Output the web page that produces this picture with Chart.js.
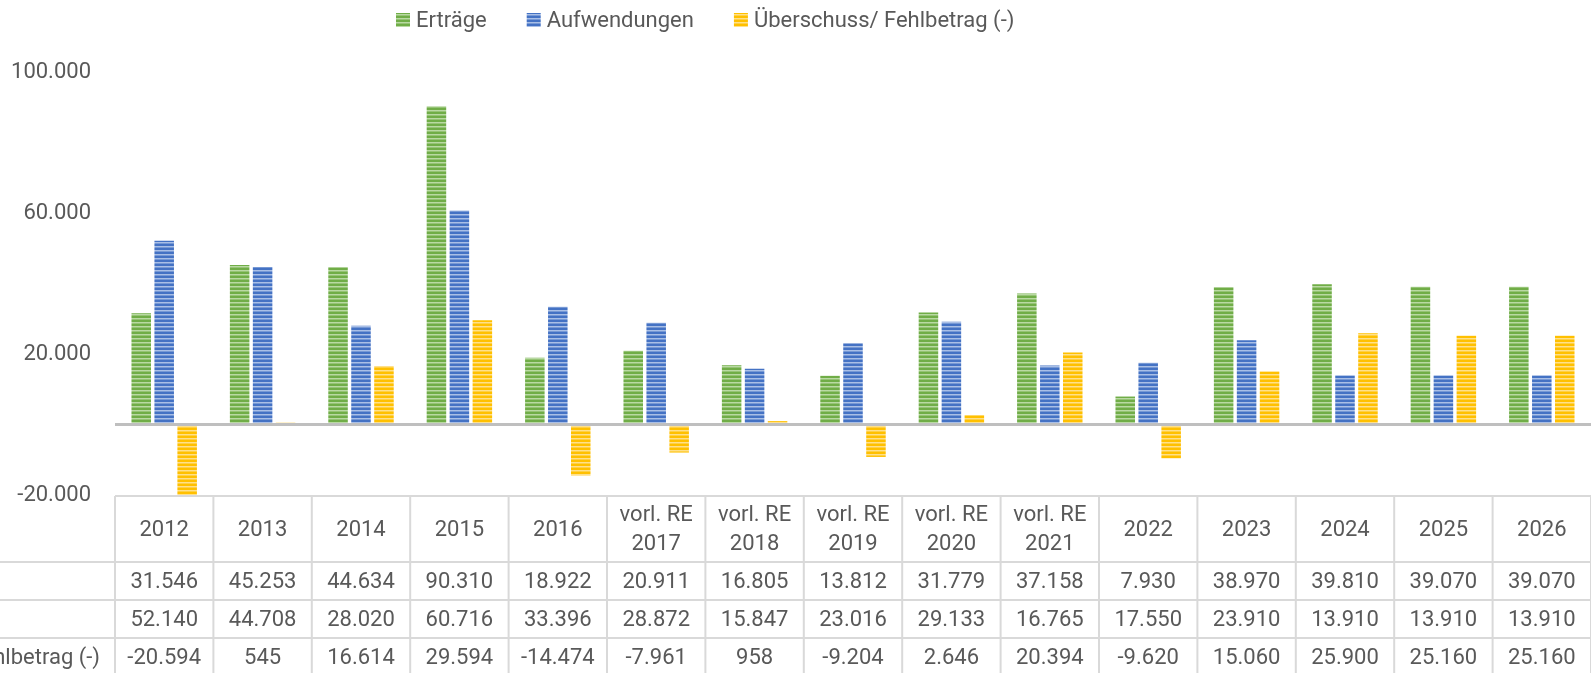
<!DOCTYPE html>
<html>
<head>
<meta charset="utf-8">
<script src="https://cdn.jsdelivr.net/npm/chart.js@4.4.1/dist/chart.umd.min.js"></script>
<style>
    html, body { margin: 0; padding: 0; background: #fff; overflow: hidden; }
    #wrap { width: 1591px; height: 673px; }
</style>
</head>
<body>
<div id="wrap"><canvas id="chart" width="1591" height="673"></canvas></div>
<script>
// ------------------------------ Data -------------------------------
var categories = ['2012', '2013', '2014', '2015', '2016',
    ['vorl. RE', '2017'], ['vorl. RE', '2018'], ['vorl. RE', '2019'], ['vorl. RE', '2020'], ['vorl. RE', '2021'],
    '2022', '2023', '2024', '2025', '2026'];
var seriesNames = ['Erträge', 'Aufwendungen', 'Überschuss/ Fehlbetrag (-)'];
var ertraege = [31546, 45253, 44634, 90310, 18922, 20911, 16805, 13812, 31779, 37158, 7930, 38970, 39810, 39070, 39070];
var aufwendungen = [52140, 44708, 28020, 60716, 33396, 28872, 15847, 23016, 29133, 16765, 17550, 23910, 13910, 13910, 13910];
var ueberschuss = [-20594, 545, 16614, 29594, -14474, -7961, 958, -9204, 2646, 20394, -9620, 15060, 25900, 25160, 25160];
var tickValues = [-20000, 20000, 60000, 100000];

// ------------------------------ Look -------------------------------
var FONT = 'Roboto, "Open Sans", sans-serif';
var TEXT = '#595959';
var GRID = '#d9d9d9';
var colors = ['#70ad47', '#4472c4', '#ffc000'];
var lightColors = ['#b9d9a3', '#a9bfe6', '#ffe08a'];

var canvas = document.getElementById('chart');
var mainCtx = canvas.getContext('2d');

function fmt(v) {
    var s = Math.abs(v).toString().replace(/\B(?=(\d{3})+(?!\d))/g, '.');
    return (v < 0 ? '-' : '') + s;
}

// horizontal stripe fill like the excel pattern fill
function stripes(base, light) {
    var c = document.createElement('canvas');
    c.width = 4; c.height = 4;
    var g = c.getContext('2d');
    g.fillStyle = base;
    g.fillRect(0, 0, 4, 4);
    g.fillStyle = light;
    g.fillRect(0, 2, 4, 1);
    g.globalAlpha = 0.5;
    g.fillRect(0, 3, 4, 1);
    return mainCtx.createPattern(c, 'repeat');
}

var seriesValues = [ertraege, aufwendungen, ueberschuss];

// zero line on top of the bars
var zeroLinePlugin = {
    id: 'zeroLine',
    afterDatasetsDraw: function(chart) {
        var ctx = chart.ctx;
        var y0 = chart.scales.y.getPixelForValue(0);
        ctx.save();
        ctx.strokeStyle = '#bfbfbf';
        ctx.lineWidth = 3;
        ctx.beginPath();
        ctx.moveTo(chart.chartArea.left, y0);
        ctx.lineTo(chart.width, y0);
        ctx.stroke();
        ctx.restore();
    }
};

// legend drawn by hand so item spacing and position match
var legendPlugin = {
    id: 'customLegend',
    afterDraw: function(chart) {
        var ctx = chart.ctx;
        var x = 396, y = 20;
        ctx.save();
        ctx.font = '22px ' + FONT;
        ctx.textBaseline = 'middle';
        chart.data.datasets.forEach(function(ds) {
            ctx.fillStyle = ds.backgroundColor;
            ctx.fillRect(x, y - 7, 14, 14);
            ctx.fillStyle = TEXT;
            ctx.fillText(ds.label, x + 20, y + 1);
            x += 20 + ctx.measureText(ds.label).width + 40;
        });
        ctx.restore();
    }
};

// data table under the plot
var tablePlugin = {
    id: 'dataTable',
    afterDraw: function(chart) {
        var ctx = chart.ctx;
        var area = chart.chartArea;
        var xs = chart.scales.x;
        var step = xs.getPixelForValue(1) - xs.getPixelForValue(0);
        var top = area.bottom + 1;
        var headBottom = top + 66;
        var rowH = 38;
        var bottom = headBottom + rowH * 3;
        var right = chart.width;

        ctx.save();
        ctx.strokeStyle = GRID;
        ctx.lineWidth = 2;
        ctx.beginPath();
        ctx.moveTo(area.left, top); ctx.lineTo(right, top);
        for (var r = 0; r < 3; r++) {
            var yy = headBottom + r * rowH;
            ctx.moveTo(0, yy); ctx.lineTo(right, yy);
        }
        for (var i = 0; i <= categories.length; i++) {
            var xx = xs.getPixelForValue(i) - step / 2;
            ctx.moveTo(xx, top); ctx.lineTo(xx, bottom);
        }
        ctx.stroke();

        ctx.fillStyle = TEXT;
        ctx.font = '22px ' + FONT;
        ctx.textAlign = 'center';
        ctx.textBaseline = 'middle';
        categories.forEach(function(cat, i) {
            var cx = xs.getPixelForValue(i);
            var mid = (top + headBottom) / 2;
            if (Array.isArray(cat)) {
                ctx.fillText(cat[0], cx, mid - 14);
                ctx.fillText(cat[1], cx, mid + 15);
            } else {
                ctx.fillText(cat, cx, mid + 1);
            }
            seriesValues.forEach(function(vals, r) {
                ctx.fillText(fmt(vals[i]), cx, headBottom + r * rowH + rowH / 2 + 1);
            });
        });

        // row labels, left part runs off the canvas like in the source
        ctx.textAlign = 'left';
        var labelStart = 100 - ctx.measureText(seriesNames[2]).width;
        seriesNames.forEach(function(name, r) {
            ctx.fillText(name, labelStart, headBottom + r * rowH + rowH / 2 + 1);
        });
        ctx.restore();
    }
};

var datasets = seriesNames.map(function(name, i) {
    return {
        label: name,
        data: seriesValues[i],
        backgroundColor: stripes(colors[i], lightColors[i]),
        borderWidth: 0,
        categoryPercentage: 0.7,
        barPercentage: 0.85,
        clip: false
    };
});

var chart = new Chart(canvas, {
    type: 'bar',
    data: {
        labels: categories,
        datasets: datasets
    },
    options: {
        responsive: false,
        animation: false,
        devicePixelRatio: 1,
        layout: {
            padding: { top: 72, right: -6, bottom: 178, left: 0 }
        },
        plugins: {
            legend: { display: false },
            tooltip: { enabled: false }
        },
        scales: {
            x: {
                display: false
            },
            y: {
                min: -20000,
                max: 100000,
                afterBuildTicks: function(axis) {
                    axis.ticks = tickValues.map(function(v) { return { value: v }; });
                },
                afterFit: function(axis) {
                    axis.width = 115;
                },
                grid: { display: false, drawTicks: false },
                border: { display: false },
                ticks: {
                    padding: 24,
                    color: TEXT,
                    font: { family: FONT, size: 22 },
                    callback: function(v) { return fmt(v); }
                }
            }
        }
    },
    plugins: [zeroLinePlugin, tablePlugin, legendPlugin]
});
</script>
</body>
</html>
